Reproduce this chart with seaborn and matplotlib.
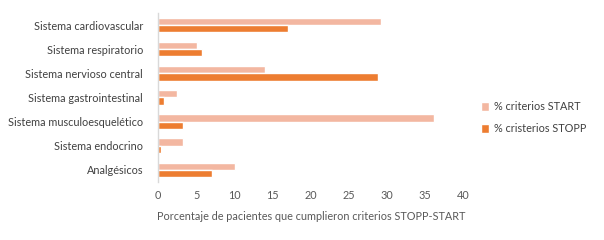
import matplotlib
matplotlib.use("Agg")
import matplotlib.pyplot as plt
import seaborn as sns
import pandas as pd

categorias = ["Sistema cardiovascular", "Sistema respiratorio", "Sistema nervioso central",
              "Sistema gastrointestinal", "Sistema musculoesquelético", "Sistema endocrino",
              "Analgésicos"]
start_vals = [29.2, 5.1, 14.0, 2.5, 36.2, 3.2, 10.1]
stopp_vals = [17.0, 5.8, 28.8, 0.8, 3.3, 0.4, 7.1]
series = ["% criterios START", "% cristerios STOPP"]
xticks = [0, 5, 10, 15, 20, 25, 30, 35, 40]

df = pd.DataFrame({
    "categoria": categorias * 2,
    "valor": start_vals + stopp_vals,
    "serie": [series[0]] * len(categorias) + [series[1]] * len(categorias),
})

sns.set_theme(style="white")
plt.rcParams["font.family"] = ["Lato", "DejaVu Sans"]

fs = 7.8
fig = plt.figure(figsize=(6.04, 2.4), dpi=100)
ax = fig.add_axes([0.262, 0.242, 0.505, 0.704])
sns.barplot(data=df, y="categoria", x="valor", hue="serie", order=categorias,
            hue_order=series, palette=["#F3B7A1", "#ED7D31"], width=0.6,
            orient="h", ax=ax, saturation=1)

ax.set_xlim(0, 40)
ax.set_xticks(xticks)
ax.set_xticklabels([str(t) for t in xticks])
ax.set_ylabel("")
ax.set_xlabel("Porcentaje de pacientes que cumplieron criterios STOPP-START",
              fontsize=fs, color="#595959", labelpad=7)
ax.tick_params(axis="x", length=0, labelsize=fs, labelcolor="#595959", pad=6)
ax.tick_params(axis="y", length=0, labelsize=fs, labelcolor="#404040", pad=11)
for s in ["top", "right", "bottom"]:
    ax.spines[s].set_visible(False)
ax.spines["left"].set_color("#D9D9D9")
ax.spines["left"].set_linewidth(1)
ax.grid(False)

ax.legend(loc="center left", bbox_to_anchor=(1.025, 0.38), frameon=False,
          fontsize=fs, handlelength=0.8, handleheight=0.8, handletextpad=0.4,
          labelspacing=1.0, labelcolor="#404040")

fig.savefig("out.png", dpi=100)
